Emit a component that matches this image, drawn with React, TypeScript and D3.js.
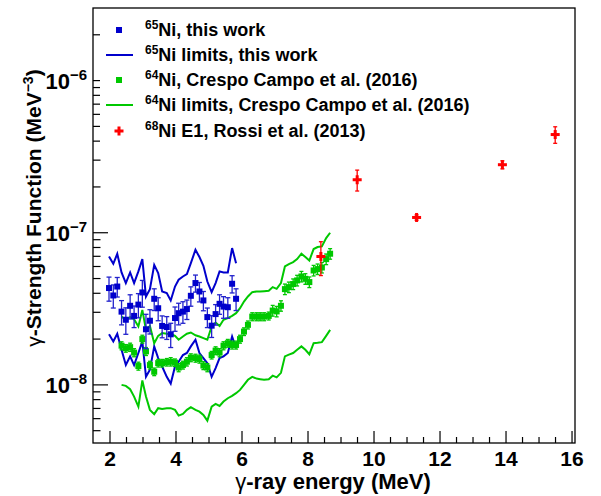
import React from 'react';
import * as d3 from 'd3';

// Units: 1e-8 MeV^-3 for the arrays below
const blueX = [1.97, 2.10, 2.22, 2.35, 2.48, 2.61, 2.73, 2.86, 2.98, 3.09, 3.21, 3.34, 3.46, 3.58, 3.72, 3.84, 3.97, 4.08, 4.21, 4.33, 4.45, 4.59, 4.71, 4.83, 4.95, 5.08, 5.20, 5.32, 5.44, 5.57, 5.70, 5.82];
const blueY = [4.33, 3.87, 4.43, 3.03, 2.68, 3.31, 2.84, 3.37, 4.05, 2.32, 2.64, 3.68, 3.19, 2.44, 2.40, 2.15, 2.75, 2.96, 3.03, 3.15, 3.85, 4.67, 4.11, 3.59, 2.79, 2.45, 2.92, 3.41, 3.27, 3.24, 4.62, 3.68];
const blueErr = [0.78, 0.67, 0.65, 0.55, 0.53, 0.60, 0.46, 0.61, 0.81, 0.59, 0.48, 0.60, 0.55, 0.40, 0.41, 0.39, 0.50, 0.48, 0.49, 0.46, 0.56, 0.60, 0.60, 0.52, 0.41, 0.40, 0.45, 0.50, 0.53, 0.50, 0.60, 0.60];
const blueUpper = [6.98, 6.25, 7.27, 5.48, 4.67, 5.48, 4.67, 5.57, 6.71, 3.81, 4.26, 6.15, 5.43, 4.11, 4.01, 3.59, 4.43, 4.91, 5.16, 5.35, 6.31, 7.73, 6.92, 6.07, 4.78, 4.07, 4.67, 5.57, 5.48, 5.48, 7.93, 6.31];
const blueLower = [2.15, 1.93, 2.17, 1.70, 1.35, 1.54, 1.35, 1.62, 1.93, 1.13, 1.26, 1.79, 1.50, 1.32, 1.13, 1.02, 1.32, 1.42, 1.57, 1.62, 1.79, 1.98, 1.62, 1.50, 1.39, 1.13, 1.29, 1.50, 1.54, 1.62, 2.08, 1.74];

const greenX = [2.35, 2.48, 2.61, 2.73, 2.86, 2.98, 3.09, 3.21, 3.34, 3.46, 3.58, 3.72, 3.84, 3.97, 4.08, 4.21, 4.33, 4.45, 4.59, 4.71, 4.83, 4.95, 5.08, 5.20, 5.32, 5.44, 5.57, 5.70, 5.82, 5.94, 6.06, 6.18, 6.31, 6.44, 6.55, 6.67, 6.81, 6.93, 7.05, 7.18, 7.30, 7.42, 7.55, 7.67, 7.80, 7.92, 8.04, 8.17, 8.29, 8.42, 8.55, 8.67];
const greenY = [1.81, 1.74, 1.77, 1.63, 1.33, 2.00, 1.66, 1.35, 1.22, 1.39, 1.39, 1.41, 1.42, 1.40, 1.30, 1.35, 1.42, 1.51, 1.50, 1.48, 1.34, 1.30, 1.57, 1.68, 1.63, 1.81, 1.88, 1.83, 1.83, 2.00, 2.24, 2.48, 2.81, 2.81, 2.81, 2.81, 2.84, 3.08, 3.04, 3.31, 4.26, 4.39, 4.60, 4.86, 5.16, 4.98, 4.74, 5.65, 5.77, 5.91, 6.71, 7.28];
const greenErr = [0.11, 0.10, 0.11, 0.10, 0.08, 0.12, 0.10, 0.08, 0.07, 0.08, 0.08, 0.08, 0.09, 0.08, 0.08, 0.08, 0.09, 0.09, 0.09, 0.09, 0.08, 0.08, 0.09, 0.10, 0.10, 0.11, 0.11, 0.11, 0.11, 0.12, 0.13, 0.15, 0.17, 0.17, 0.17, 0.17, 0.17, 0.25, 0.24, 0.26, 0.34, 0.35, 0.37, 0.39, 0.41, 0.40, 0.38, 0.45, 0.46, 0.47, 0.54, 0.58];
const greenUpper = [2.81, 2.68, 2.79, 2.70, 2.42, 3.11, 2.30, 2.44, 1.88, 2.10, 2.19, 2.17, 2.16, 2.10, 1.98, 2.08, 2.17, 2.21, 2.12, 2.08, 2.03, 1.98, 2.42, 2.57, 2.44, 2.68, 2.75, 2.84, 2.96, 3.19, 3.53, 3.81, 4.07, 4.11, 4.11, 4.13, 4.15, 4.39, 4.28, 4.67, 6.00, 6.22, 6.41, 6.71, 7.28, 6.92, 6.57, 7.81, 8.05, 8.13, 9.23, 10.0];
const greenLower = [1.00, 0.985, 0.937, 0.838, 0.72, 1.07, 0.838, 0.685, 0.642, 0.703, 0.695, 0.703, 0.703, 0.685, 0.628, 0.645, 0.685, 0.713, 0.685, 0.667, 0.635, 0.582, 0.72, 0.75, 0.727, 0.777, 0.817, 0.846, 0.882, 0.927, 1.00, 1.08, 1.13, 1.10, 1.09, 1.08, 1.09, 1.15, 1.12, 1.20, 1.54, 1.58, 1.62, 1.70, 1.79, 1.70, 1.59, 1.88, 1.89, 1.91, 2.10, 2.30];

const redX = [8.39, 9.49, 11.29, 13.89, 15.49];
const redY = [6.98, 22.3, 12.6, 28.0, 44.2];
const redErr = [1.75, 3.5, 0.5, 1.7, 5.5];

const legendLabels = [
  { sup: '65', text: 'Ni, this work' },
  { sup: '65', text: 'Ni limits, this work' },
  { sup: '64', text: 'Ni, Crespo Campo et al. (2016)' },
  { sup: '64', text: 'Ni limits, Crespo Campo et al. (2016)' },
  { sup: '68', text: 'Ni E1, Rossi et al. (2013)' },
];
const xTickLabels = ['2', '4', '6', '8', '10', '12', '14', '16'];
const yTickExps = ['6', '7', '8'];

const BLUE = '#0000cc';
const GREEN = '#00c800';
const RED = '#ff0000';
const FONT = '"Liberation Sans", Arial, Helvetica, sans-serif';

export default function App() {
  const W = 601, H = 496;
  const L = 93, R = 575, T = 8, B = 443;
  const x = d3.scaleLinear().domain([1.485, 16.09]).range([L, R]);
  const y = d3.scaleLog().domain([4.15e-9, 3.0e-6]).range([B, T]);
  const u = 1e-8;

  const line = d3.line<[number, number]>().x(d => x(d[0])).y(d => y(d[1] * u));
  const pts = (xs: number[], ys: number[]) => xs.map((v, i) => [v, ys[i]] as [number, number]);

  const xMajor = xTickLabels.map(Number);
  const xMinor = d3.range(2, 16.01, 0.5).filter(v => Math.abs(v % 2) > 1e-9);
  const yMinor: number[] = [];
  for (let e = -9; e <= -6; e++) for (let m = 2; m <= 9; m++) {
    const v = m * Math.pow(10, e);
    if (v > 4.15e-9 && v < 3.0e-6) yMinor.push(v);
  }

  const errBar = (xs: number[], ys: number[], es: number[], color: string, cap: number, key: string) =>
    xs.map((xv, i) => {
      const cx = x(xv);
      const y1 = y((ys[i] + es[i]) * u);
      const y2 = y(Math.max(ys[i] - es[i], 0.01) * u);
      return (
        <g key={key + i} stroke={color} strokeWidth={1.3}>
          <line x1={cx} x2={cx} y1={y1} y2={y2} />
          <line x1={cx - cap} x2={cx + cap} y1={y1} y2={y1} />
          <line x1={cx - cap} x2={cx + cap} y1={y2} y2={y2} />
        </g>
      );
    });

  const legendRows = [30, 55, 80, 105, 131];

  return (
    <svg width={W} height={H} style={{ position: 'absolute', left: 0, top: 0, background: '#fff' }} fontFamily={FONT}>
      <rect x={0} y={0} width={W} height={H} fill="#fff" />
      {/* axis ticks */}
      <g stroke="#000" strokeWidth={1.2}>
        {xMajor.map(v => <line key={'xM' + v} x1={x(v)} x2={x(v)} y1={B} y2={B - 12} />)}
        {xMinor.map(v => <line key={'xm' + v} x1={x(v)} x2={x(v)} y1={B} y2={B - 6} />)}
        {[-8, -7, -6].map(e => <line key={'yM' + e} x1={L} x2={L + 15} y1={y(Math.pow(10, e))} y2={y(Math.pow(10, e))} />)}
        {yMinor.map(v => <line key={'ym' + v} x1={L} x2={L + 7.5} y1={y(v)} y2={y(v)} />)}
      </g>

      {/* legend background */}
      <rect x={100} y={12} width={385} height={132} fill="#fff" />

      {/* limit lines */}
      <path d={line(pts(blueX, blueUpper)) || ''} fill="none" stroke={BLUE} strokeWidth={2} />
      <path d={line(pts(blueX, blueLower)) || ''} fill="none" stroke={BLUE} strokeWidth={2} />
      <path d={line(pts(greenX, greenUpper)) || ''} fill="none" stroke={GREEN} strokeWidth={2} />
      <path d={line(pts(greenX, greenLower)) || ''} fill="none" stroke={GREEN} strokeWidth={2} />

      {/* green data */}
      {errBar(greenX, greenY, greenErr, GREEN, 2, 'ge')}
      {greenX.map((xv, i) => (
        <rect key={'g' + i} x={x(xv) - 3} y={y(greenY[i] * u) - 3} width={6} height={6} fill={GREEN} />
      ))}

      {/* blue data */}
      {errBar(blueX, blueY, blueErr, '#2222cc', 2.5, 'be')}
      {blueX.map((xv, i) => (
        <rect key={'b' + i} x={x(xv) - 3} y={y(blueY[i] * u) - 3} width={6} height={6} fill={BLUE} />
      ))}

      {/* red data */}
      {errBar(redX, redY, redErr, RED, 2, 're')}
      {redX.map((xv, i) => {
        const cx = x(xv), cy = y(redY[i] * u);
        return (
          <g key={'r' + i} fill={RED}>
            <rect x={cx - 4.5} y={cy - 1.5} width={9} height={3} />
            <rect x={cx - 1.5} y={cy - 4.5} width={3} height={9} />
          </g>
        );
      })}

      {/* frame */}
      <rect x={L} y={T} width={R - L} height={B - T} fill="none" stroke="#000" strokeWidth={1.3} />

      {/* x tick labels */}
      {xTickLabels.map(t => (
        <text key={'xl' + t} x={x(+t)} y={466} textAnchor="middle" fontSize={21} fontWeight="bold">{t}</text>
      ))}
      {/* y tick labels */}
      {yTickExps.map(e => (
        <text key={'yl' + e} x={87} y={y(Math.pow(10, -+e)) + 8} textAnchor="end" fontSize={22} fontWeight="bold">
          10<tspan fontSize={15} dy={-9}>{'\u2212' + e}</tspan>
        </text>
      ))}

      {/* axis titles */}
      <text x={333} y={489} textAnchor="middle" fontSize={22} fontWeight="bold">
        <tspan fontWeight="normal">γ</tspan>-ray energy (MeV)
      </text>
      <text transform="translate(41,208) rotate(-90)" textAnchor="middle" fontSize={21} fontWeight="bold">
        <tspan fontWeight="normal">γ</tspan>-Strength Function (MeV<tspan fontSize={14} dy={-8}>{'\u2212'}3</tspan><tspan dy={8}>)</tspan>
      </text>

      {/* legend */}
      {legendLabels.map((lg, i) => {
        const cy = legendRows[i];
        let sym: React.ReactNode = null;
        if (i === 0) sym = <rect x={116} y={cy - 3} width={6} height={6} fill={BLUE} />;
        if (i === 1) sym = <line x1={106} x2={133} y1={cy} y2={cy} stroke={BLUE} strokeWidth={2} />;
        if (i === 2) sym = <rect x={116} y={cy - 3} width={6} height={6} fill={GREEN} />;
        if (i === 3) sym = <line x1={106} x2={133} y1={cy} y2={cy} stroke={GREEN} strokeWidth={2} />;
        if (i === 4) sym = (
          <g fill={RED}>
            <rect x={119 - 4.5} y={cy - 1.5} width={9} height={3} />
            <rect x={119 - 1.5} y={cy - 4.5} width={3} height={9} />
          </g>
        );
        return (
          <g key={'lg' + i}>
            {sym}
            <text x={145} y={cy + 6} fontSize={18} fontWeight="bold">
              <tspan fontSize={12} dy={-7}>{lg.sup}</tspan>
              <tspan dy={7}>{lg.text}</tspan>
            </text>
          </g>
        );
      })}
    </svg>
  );
}
